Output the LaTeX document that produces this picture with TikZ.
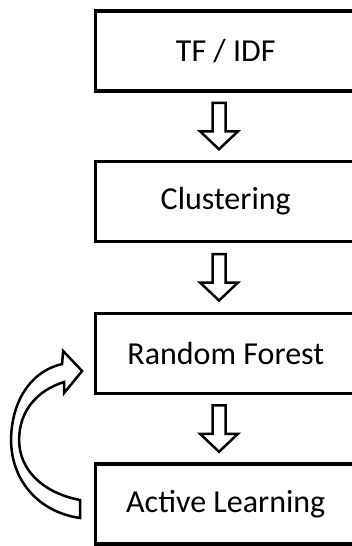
\documentclass[tikz,border=0pt]{standalone}
\usepackage{fontspec}
\setmainfont{Carlito}
\usetikzlibrary{calc}
\tikzset{
  box/.style={draw=black, line width=3.8pt, fill=white, minimum width=260.5pt, minimum height=80pt, inner sep=0pt, font=\fontsize{32}{36}\selectfont},
  arrowline/.style={draw=black, line width=2.5pt, fill=white, line join=miter},
  downarr/.pic={\path[arrowline] (-6.5,-23.5) -- (6.5,-23.5) -- (6.5,5) -- (19,5) -- (0,23) -- (-19,5) -- (-6.5,5) -- cycle;}
}
\begin{document}
\begin{tikzpicture}[x={(1pt,0)}, y={(0,-1pt)}]
\useasboundingbox (0,0) rectangle (352,546);
\clip (0,0) rectangle (352,546);
\fill[white] (0,0) rectangle (352,546);
\node[box] (tfidf) at (225.75,51) {TF / IDF};
\node[box] (clus) at (225.75,201.5) {Clustering};
\node[box] (rf) at (225.75,353.5) {Random Forest};
\node[box] (al) at (225.75,504) {Active Learning};
\pic at ($(tfidf.south)!0.5!(clus.north)+(-6.75,0)$) {downarr};
\pic at ($(clus.south)!0.5!(rf.north)+(-6.75,0)$) {downarr};
\pic at ($(rf.south)!0.5!(al.north)+(-6.75,0)$) {downarr};
\begin{scope}[shift={(al.west)}]
\path[arrowline] (-31.5,-140) .. controls (-65.5,-132) and (-82.5,-99) .. (-82.5,-64)
  .. controls (-82.5,-24) and (-55.5,8) .. (-13.5,14)
  -- (-13.5,-4)
  .. controls (-50.5,-11) and (-74.5,-34) .. (-74.5,-64)
  .. controls (-74.5,-94) and (-55.5,-114) .. (-29.5,-122)
  -- (-29.5,-111) -- (-11.5,-133) -- (-30.5,-153) -- cycle;
\end{scope}
\end{tikzpicture}
\end{document}
